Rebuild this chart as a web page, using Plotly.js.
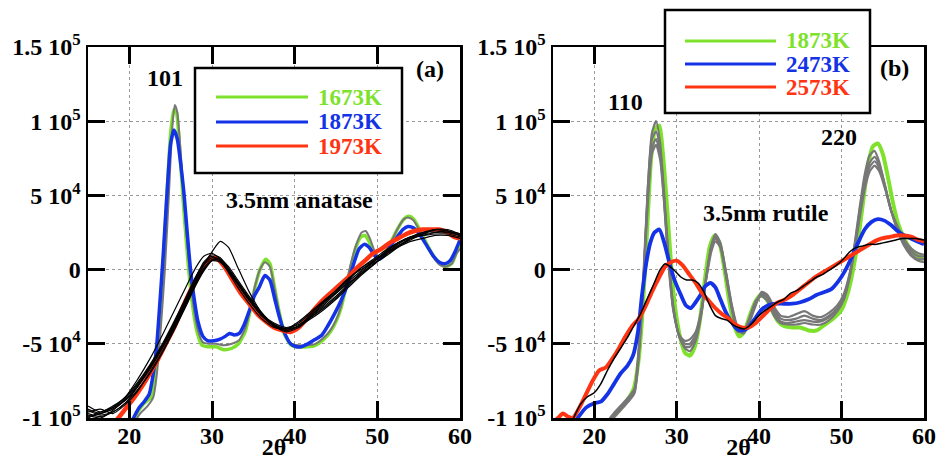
<!DOCTYPE html>
<html><head><meta charset="utf-8">
<script src="https://cdn.plot.ly/plotly-3.0.1.min.js"></script>
<style>html,body{margin:0;padding:0;background:#fff}#chart{width:936px;height:460px}</style>
</head><body><div id="chart"></div>
<script>
// ---------- Data (y in units of 10^3) ----------
// Panel (a): 3.5nm anatase
const aGreenX = [20.3,21.0,21.8,22.6,23.0,23.5,24.0,24.5,25.0,25.4,25.7,26.1,26.6,27.1,27.6,28.2,28.8,29.5,30.5,31.4,32.4,33.2,34.0,34.6,35.2,35.8,36.5,37.0,37.5,38.1,38.8,39.6,40.5,41.5,42.5,43.5,44.3,45.0,45.6,46.2,46.8,47.4,48.0,48.5,49.0,49.6,50.2,50.8,51.6,52.4,53.2,53.8,54.4,55.2,56.0,56.8,57.6,58.3,59.0,59.6,60.0];
const aGreenY = [-103,-96,-90,-86,-75,-45,-5,45,92,108,106,80,40,5,-22,-42,-51,-52,-52,-54,-53,-50,-42,-28,-12,0,7,4,-10,-28,-44,-51,-52,-52,-51,-47,-42,-35,-26,-12,2,15,22,23,19,11,7,10,18,27,34,36,34,26,17,9,4,2,4,12,16];
const aGrayX = [20.5,21.3,22.2,22.9,23.3,23.8,24.3,24.8,25.2,25.5,25.8,26.2,26.7,27.2,27.7,28.3,28.9,29.6,30.5,31.4,32.4,33.2,34.0,34.6,35.2,35.8,36.4,37.0,37.5,38.1,38.8,39.6,40.5,41.5,42.5,43.5,44.3,45.0,45.6,46.2,46.8,47.4,48.1,48.6,49.1,49.7,50.3,50.9,51.7,52.5,53.2,53.8,54.4,55.2,56.0,56.8,57.6,58.3,59.0,59.6,60.0];
const aGrayY = [-104,-97,-92,-86,-72,-40,0,52,96,111,106,80,40,5,-22,-41,-49,-50,-50,-51,-50,-48,-40,-27,-11,0,5,2,-11,-28,-43,-50,-51,-51,-50,-46,-41,-34,-25,-11,4,16,25,26,21,12,8,11,19,28,34,35,33,25,16,8,3,2,4,11,14];
const aBlueX = [20.0,20.6,21.2,21.8,22.4,22.9,23.3,23.7,24.1,24.6,25.0,25.4,25.8,26.2,26.6,27.0,27.4,27.8,28.3,28.9,29.5,30.2,30.9,31.6,32.1,32.7,33.3,33.9,34.5,35.1,35.7,36.4,37.0,37.6,38.2,38.8,39.5,40.2,40.8,41.6,42.5,43.3,44.0,44.8,45.6,46.4,47.2,47.8,48.4,49.0,49.6,50.2,50.9,51.6,52.4,53.1,53.7,54.4,55.2,56.0,56.8,57.5,58.2,58.8,59.4,60.0];
const aBlueY = [-106,-99,-93,-89,-84,-70,-52,-22,10,55,85,94,88,72,52,25,0,-18,-35,-45,-48,-48,-47,-45,-43,-44,-43,-37,-28,-18,-12,-4,-7,-20,-33,-43,-50,-52,-52,-50,-47,-44,-38,-30,-21,-10,5,14,17,15,10,7,10,16,22,27,29,28,23,16,9,5,4,6,12,20];
const aRedX = [17.5,18.5,19.5,20.5,21.5,22.5,23.5,24.5,25.5,26.5,27.5,28.5,29.3,30.0,30.7,31.5,32.5,33.5,34.5,35.5,36.5,37.5,38.5,39.5,40.5,41.5,42.5,43.5,44.5,45.5,46.5,47.5,48.5,49.5,50.5,51.5,52.5,53.5,54.5,55.5,56.5,57.5,58.5,59.3,60.0];
const aRedY = [-106,-101,-94,-87,-79,-70,-60,-49,-38,-25,-13,-3,4,8,7,2,-7,-16,-23,-30,-35,-39,-41,-42,-39,-33,-26,-20,-15,-10,-5,1,6,11,14,18,21,24,26,27,27,27,25,22,21];
const aBlackX = [15,16.5,18,19.5,21,22.5,24,25.5,27,28,29,30,31,32,33,34.5,36,37.5,39,40.5,42,43.5,45,46.5,48,49.5,51,52.5,54,55.5,57,58.5,60];
const aBlack1 = [-97,-99,-96,-90,-79,-66,-52,-37,-20,-8,3,12,19,15,3,-15,-29,-38,-41,-38,-31,-24,-16,-8,-1,6,12,18,22,24,27,26,23];
const aBlack2 = [-92,-96,-92,-86,-74,-60,-44,-27,-10,1,9,11,7,0,-8,-20,-31,-37,-40,-36,-29,-22,-16,-9,-3,3,10,15,19,21,23,23,21];
const aBlack3 = [-99,-97,-94,-88,-78,-66,-52,-36,-19,-7,3,8,6,-1,-9,-21,-31,-38,-42,-39,-32,-25,-18,-10,-2,5,11,17,22,25,26,25,23];
const aBlack4 = [-95,-98,-96,-90,-81,-70,-56,-40,-23,-11,-1,6,7,2,-6,-18,-29,-37,-41,-38,-31,-23,-15,-7,1,6,11,16,20,24,27,27,24];
const aBlack5 = [-100,-96,-93,-86,-76,-64,-50,-34,-17,-5,4,9,6,-2,-11,-23,-33,-39,-40,-35,-28,-21,-14,-6,0,5,12,18,22,23,24,24,22];
const aBlack6 = [-96,-94,-97,-91,-82,-69,-55,-39,-22,-10,0,6,5,-1,-9,-20,-30,-36,-39,-37,-32,-26,-19,-11,-3,4,9,15,21,25,27,26,24];
const aBlack7 = [-98,-100,-95,-87,-77,-65,-51,-35,-18,-6,5,10,8,1,-7,-19,-30,-37,-40,-38,-33,-27,-20,-12,-4,3,10,16,21,24,25,25,23];
const aBlack8 = [-94,-97,-93,-88,-79,-67,-53,-38,-21,-9,1,7,6,0,-8,-20,-31,-38,-41,-38,-30,-22,-14,-6,1,7,13,18,21,23,25,26,24];

// Panel (b): 3.5nm rutile
const bGreenX = [21.0,22.0,23.0,24.0,24.8,25.4,25.9,26.4,26.9,27.4,27.9,28.3,28.8,29.3,29.8,30.4,31.0,31.6,32.2,32.8,33.4,34.0,34.6,35.2,35.8,36.4,37.0,37.6,38.2,38.8,39.5,40.2,40.9,41.6,42.3,43.0,44.0,45.0,46.0,47.0,48.0,49.0,50.0,50.8,51.4,52.0,52.6,53.2,53.8,54.4,55.0,55.6,56.2,56.8,57.5,58.2,59.0,60.0];
const bGreenY = [-108,-101,-95,-88,-80,-60,-25,25,75,95,97,80,45,5,-25,-45,-56,-58,-52,-35,-8,15,23,18,0,-22,-38,-45,-42,-32,-22,-17,-20,-28,-35,-38,-39,-39,-41,-41,-37,-33,-27,-15,0,20,45,70,83,85,78,63,46,32,22,15,10,7];
const bGrayX = [21.5,22.5,23.5,24.3,24.9,25.5,26.0,26.5,27.0,27.5,28.0,28.5,29.0,29.6,30.3,31.0,31.6,32.3,33.0,33.6,34.2,34.7,35.3,36.0,36.7,37.4,38.1,38.8,39.6,40.3,41.0,41.8,42.6,43.5,44.5,45.5,46.5,47.5,48.5,49.5,50.3,51.0,51.6,52.2,52.8,53.4,54.0,54.6,55.3,56.0,56.8,57.6,58.5,59.3,60.0];
const bGray1 = [-103,-96,-90,-85,-80,-45,-5,55,92,100,85,50,10,-25,-45,-53,-55,-48,-30,-5,16,24,18,-2,-24,-39,-43,-36,-24,-15,-17,-25,-31,-32,-30,-28,-31,-32,-29,-24,-16,-2,18,42,64,77,80,72,56,40,26,16,9,6,5];
const bGray2 = [-104,-97,-91,-86,-81,-48,0,55,88,93,80,47,8,-26,-45,-52,-52,-46,-29,-4,16,22,17,-3,-25,-40,-43,-35,-22,-16,-18,-27,-33,-34,-33,-31,-33,-34,-31,-26,-18,-3,16,40,60,72,76,70,56,40,27,17,10,7,7];
const bGray3 = [-105,-98,-92,-87,-82,-50,-3,50,82,88,77,45,6,-27,-44,-50,-50,-44,-28,-5,14,21,16,-4,-26,-41,-42,-34,-22,-17,-19,-29,-35,-36,-35,-34,-35,-35,-32,-27,-19,-4,15,37,57,69,73,68,55,40,28,18,12,9,9];
const bGray4 = [-106,-99,-93,-88,-83,-52,-6,45,78,84,74,43,4,-28,-44,-48,-47,-42,-27,-6,12,19,15,-5,-27,-42,-42,-33,-21,-18,-21,-31,-36,-37,-37,-36,-37,-37,-34,-28,-20,-5,14,35,54,66,70,66,54,40,29,20,14,11,10];
const bBlueX = [17.0,18.0,19.0,20.0,20.8,21.6,22.4,23.2,24.0,24.7,25.3,25.8,26.3,26.8,27.3,27.9,28.5,29.1,29.8,30.5,31.1,31.7,32.3,32.9,33.5,34.1,34.7,35.3,35.9,36.6,37.3,38.0,38.7,39.5,40.3,41.1,42.0,43.0,44.0,45.0,46.0,47.0,48.0,48.8,49.6,50.4,51.2,52.0,52.8,53.6,54.4,55.2,56.0,56.8,57.6,58.4,59.2,60.0];
const bBlueY = [-108,-100,-93,-90,-89,-84,-77,-70,-65,-58,-42,-17,4,18,25,27,18,5,-8,-17,-24,-26,-22,-17,-11,-9,-12,-20,-28,-35,-40,-41,-39,-33,-27,-24,-23,-23,-23,-22,-20,-17,-15,-13,-8,-1,8,18,27,32,34,33,30,26,23,21,19,17];
const bRedX = [15.0,15.6,16.2,16.8,17.4,18.2,19.0,19.8,20.6,21.4,22.2,23.0,23.8,24.6,25.4,26.2,27.0,27.8,28.6,29.3,30.0,30.7,31.5,32.3,33.1,33.9,34.7,35.5,36.3,37.1,37.9,38.7,39.6,40.5,41.4,42.3,43.2,44.1,45.0,45.9,46.8,47.7,48.6,49.5,50.4,51.3,52.2,53.1,54.0,54.9,55.8,56.7,57.6,58.5,59.3,60.0];
const bRedY = [-103,-100,-97,-99,-100,-93,-84,-75,-68,-66,-60,-53,-45,-38,-33,-25,-15,-6,2,5,6,3,-3,-9,-16,-21,-26,-30,-33,-37,-39,-39,-36,-31,-26,-22,-20,-17,-13,-9,-5,-2,1,4,7,10,13,16,19,21,22,23,23,22,20,19];
const bBlackX = [17.5,18.3,19.1,20.0,20.8,21.6,22.4,23.2,24.0,24.8,25.6,26.4,27.2,28.0,28.6,29.2,29.8,30.5,31.2,31.9,32.6,33.3,34.0,34.7,35.4,36.1,36.8,37.5,38.2,39.0,39.8,40.6,41.4,42.2,43.0,43.8,44.6,45.4,46.2,47.0,47.8,48.6,49.4,50.2,51.0,51.8,52.6,53.4,54.2,55.0,55.8,56.6,57.4,58.2,59.0,60.0];
const bBlackY = [-100,-91,-86,-83,-77,-68,-60,-53,-46,-38,-30,-20,-10,0,4,2,-1,-5,-7,-7,-9,-15,-24,-31,-33,-34,-37,-39,-40,-37,-32,-28,-25,-22,-20,-16,-14,-11,-8,-5,-3,0,3,7,12,15,16,17,17,18,19,20,21,21,21,20];

// Axis ticks / labels
const yTickVals = [-100,-50,0,50,100,150];
const yTickText = ['-1 10<sup>5</sup>','-5 10<sup>4</sup>','0','5 10<sup>4</sup>','1 10<sup>5</sup>','1.5 10<sup>5</sup>'];
const xTickVals = [20,30,40,50,60];
const xTickText = ['20','30','40','50','60'];
const legendA = ['1673K','1873K','1973K'];
const legendB = ['1873K','2473K','2573K'];

// ---------- Styles ----------
const GREEN = '#7ee22c', BLUE = '#1432e6', RED = '#ff3412', GRAY = '#777777', BLACK = '#000000';
const FONT = 'Liberation Serif';
const W = 936, PT = 47, PB = 418;
const px = p => p / W;
const py = p => (PB - p) / (PB - PT);

function tr(x, y, color, width, ax) {
  return {x: x, y: y, type: 'scatter', mode: 'lines', xaxis: ax[0], yaxis: ax[1],
          line: {color: color, width: width, shape: 'spline', smoothing: 0.6},
          hoverinfo: 'skip', showlegend: false};
}
const A = ['x','y'], B = ['x2','y2'];
const data = [
  tr(aGreenX, aGreenY, GREEN, 3.5, A),
  tr(aGrayX, aGrayY, GRAY, 2, A),
  tr(aBlueX, aBlueY, BLUE, 3.5, A),
  tr(aRedX, aRedY, RED, 4.5, A),
  tr(aBlackX, aBlack1, BLACK, 1.2, A),
  tr(aBlackX, aBlack2, BLACK, 1.2, A),
  tr(aBlackX, aBlack3, BLACK, 1.2, A),
  tr(aBlackX, aBlack4, BLACK, 1.2, A),
  tr(aBlackX, aBlack5, BLACK, 1.2, A),
  tr(aBlackX, aBlack6, BLACK, 1.2, A),
  tr(aBlackX, aBlack7, BLACK, 1.2, A),
  tr(aBlackX, aBlack8, BLACK, 1.2, A),
  tr(bGreenX, bGreenY, GREEN, 4, B),
  tr(bGrayX, bGray1, GRAY, 2.2, B),
  tr(bGrayX, bGray2, GRAY, 2.2, B),
  tr(bGrayX, bGray3, GRAY, 2.2, B),
  tr(bGrayX, bGray4, GRAY, 2.2, B),
  tr(bBlueX, bBlueY, BLUE, 3.8, B),
  tr(bRedX, bRedY, RED, 4, B),
  tr(bBlackX, bBlackY, BLACK, 1.5, B)
];

const tickFont = {family: FONT, size: 24, color: '#000', weight: 'bold'};
function xax(domain, anchor) {
  return {domain: domain, anchor: anchor, range: [15, 60], tickmode: 'array', tickvals: xTickVals, ticktext: xTickText,
          ticks: 'inside', ticklen: 17, tickwidth: 3, tickcolor: '#000', showline: true, linewidth: 2.5, linecolor: '#000',
          mirror: 'allticks', showgrid: true, gridcolor: '#999', griddash: 'dot', gridwidth: 1, zeroline: false,
          tickfont: tickFont, ticklabelstandoff: -5, fixedrange: true,
          title: {text: '2θ', font: {family: FONT, size: 24, color: '#000', weight: 'bold'}, standoff: 0}};
}
function yax(anchor) {
  return {domain: [0, 1], anchor: anchor, range: [-100, 150], tickmode: 'array', tickvals: yTickVals, ticktext: yTickText,
          ticks: 'inside', ticklen: 17, tickwidth: 3, tickcolor: '#000', showline: true, linewidth: 2.5, linecolor: '#000',
          mirror: 'allticks', showgrid: true, gridcolor: '#999', griddash: 'dot', gridwidth: 1, zeroline: false,
          tickfont: tickFont, fixedrange: true};
}

// Legend boxes, drawn as shapes + text
function legend(box, lineX, rows, labels) {
  const cols = [GREEN, BLUE, RED];
  const shapes = [{type: 'rect', xref: 'paper', yref: 'paper', x0: px(box[0]), x1: px(box[1]), y0: py(box[2]), y1: py(box[3]),
                   line: {color: '#000', width: 2.5}, fillcolor: '#fff', layer: 'above'}];
  const ann = [];
  rows.forEach((r, i) => {
    shapes.push({type: 'line', xref: 'paper', yref: 'paper', x0: px(lineX[0]), x1: px(lineX[1]), y0: py(r), y1: py(r),
                 line: {color: cols[i], width: 3}, layer: 'above'});
    ann.push({xref: 'paper', yref: 'paper', x: px(lineX[2]), y: py(r), xanchor: 'left', yanchor: 'middle', showarrow: false,
              text: labels[i], font: {family: FONT, size: 23, color: cols[i], weight: 'bold'}});
  });
  return {shapes, ann};
}
const legA = legend([195, 402, 68, 173], [216, 308, 316], [97, 122, 146], legendA);
const legB = legend([665, 870, 10, 113], [685, 776, 784], [41, 64, 87], legendB);

function label(text, x, y) {
  return {xref: 'paper', yref: 'paper', x: px(x), y: py(y), xanchor: 'center', yanchor: 'middle', showarrow: false,
          text: text, font: {family: FONT, size: 24, color: '#000', weight: 'bold'}};
}
const annotations = [
  label('101', 165, 78), label('(a)', 430, 69), label('3.5nm anatase', 299, 200),
  label('110', 625, 102), label('220', 839, 137), label('(b)', 894, 68), label('3.5nm rutile', 766, 213)
].concat(legA.ann, legB.ann);

const layout = {
  width: 936, height: 460, margin: {l: 0, r: 0, t: PT, b: 460 - PB},
  paper_bgcolor: '#fff', plot_bgcolor: '#fff', showlegend: false,
  font: {family: FONT, color: '#000'},
  xaxis: xax([px(88), px(460)], 'y'), yaxis: yax('x'),
  xaxis2: xax([px(553), px(924)], 'y2'), yaxis2: yax('x2'),
  shapes: legA.shapes.concat(legB.shapes),
  annotations: annotations
};
Plotly.newPlot('chart', data, layout, {displayModeBar: false, staticPlot: true});
</script></body></html>
